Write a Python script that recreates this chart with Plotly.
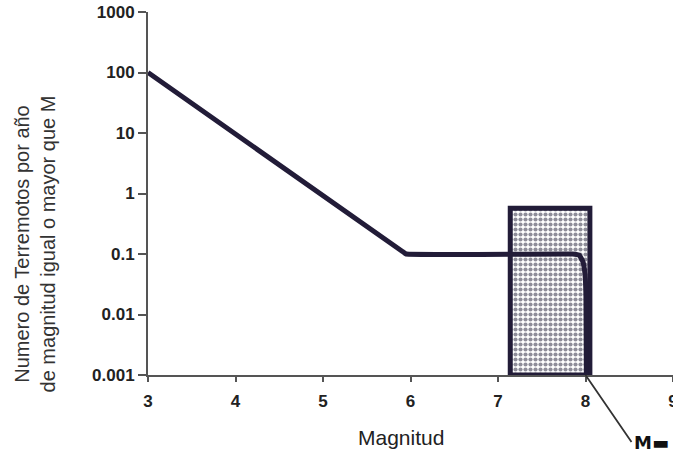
import plotly.graph_objects as go

# --- data ---
magnitud = [3.0, 5.9, 5.95, 7.85, 7.93, 7.97, 7.995, 8.005, 8.01]
tasa = [100, 0.112, 0.1, 0.1, 0.095, 0.075, 0.045, 0.02, 0.001]

caja_x = [7.14, 8.05, 8.05, 7.14, 7.14]
caja_y = [0.001, 0.001, 0.57, 0.57, 0.001]

x_ticks = [3, 4, 5, 6, 7, 8, 9]
y_ticks = [0.001, 0.01, 0.1, 1, 10, 100, 1000]
y_ticktext = ["0.001", "0.01", "0.1", "1", "10", "100", "1000"]

m_max_x = 8.0
m_max_y = 0.001

INK = "#221c38"
FONT = "Liberation Sans, Arial, sans-serif"

fig = go.Figure()

fig.add_trace(go.Scatter(
    x=caja_x, y=caja_y, mode="lines", fill="toself",
    line=dict(color=INK, width=5),
    fillcolor="white",
    fillpattern=dict(shape=".", fgcolor="#1e1b33", bgcolor="white",
                     size=5, solidity=0.55),
    hoverinfo="skip", showlegend=False,
))

fig.add_trace(go.Scatter(
    x=magnitud, y=tasa, mode="lines",
    line=dict(color=INK, width=5, shape="spline", smoothing=0.25),
    showlegend=False, cliponaxis=False,
))

fig.update_layout(
    width=673, height=453,
    margin=dict(l=148, r=0, t=12, b=78),
    paper_bgcolor="white", plot_bgcolor="white",
    font=dict(family=FONT, color="#222"),
    xaxis=dict(
        range=[3, 9.0], tickvals=x_ticks, automargin=False,
        showgrid=False, zeroline=False,
        showline=True, linecolor="#555", linewidth=2,
        ticks="outside", ticklen=5, tickwidth=2, tickcolor="#555",
        tickfont=dict(family=FONT, size=17, color="#222", weight="bold"),
        ticklabelstandoff=5, ticklabeloverflow="allow",
    ),
    yaxis=dict(
        type="log", range=[-3, 3], automargin=False,
        tickvals=y_ticks, ticktext=y_ticktext,
        showgrid=False, zeroline=False,
        showline=True, linecolor="#555", linewidth=2,
        ticks="outside", ticklen=8, tickwidth=2, tickcolor="#555",
        tickfont=dict(family=FONT, size=17, color="#222", weight="bold"),
    ),
    annotations=[
        dict(
            text="Magnitud", xref="paper", yref="paper", x=0.482, y=-0.171,
            showarrow=False, xanchor="center", yanchor="middle",
            font=dict(family=FONT, size=21, color="#222"),
        ),
        dict(
            text="Numero de Terremotos por año<br>de magnitud igual o mayor que M",
            xref="paper", yref="paper", x=-0.215, y=0.36,
            textangle=-90, showarrow=False,
            font=dict(family=FONT, size=20, color="#333"),
            xanchor="center", yanchor="middle",
        ),
        dict(
            text="<b>M▬</b>", x=m_max_x, y=-3, xref="x", yref="y",
            showarrow=True, arrowhead=0, arrowwidth=1.8, arrowcolor="#333",
            ax=46, ay=67, xanchor="left", yanchor="middle",
            font=dict(family="DejaVu Sans, Liberation Sans", size=18, color="#111"),
        ),
    ],
)

fig.write_html("out.html")
